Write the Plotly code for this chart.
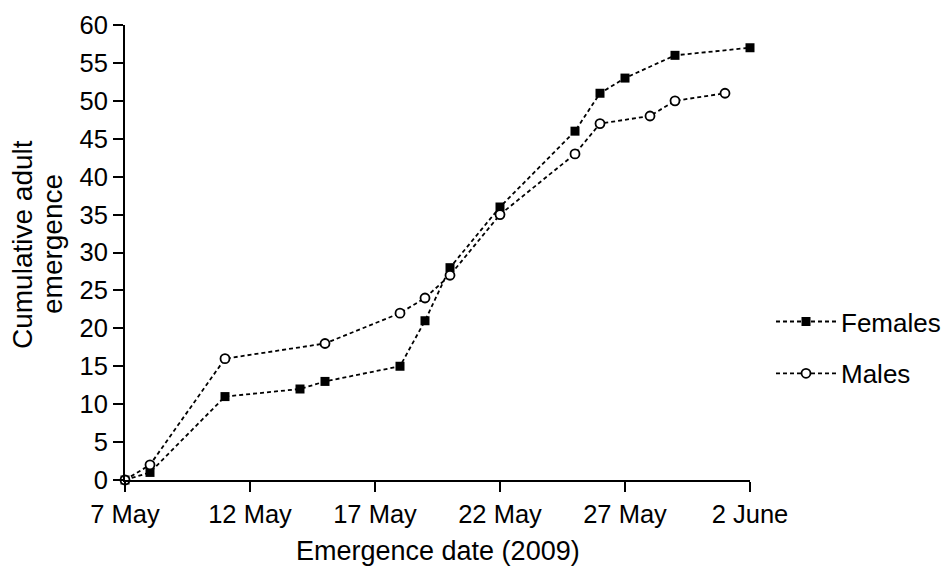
import plotly.graph_objects as go

# Days since 7 May 2009
female_days = [0, 1, 4, 7, 8, 11, 12, 13, 15, 18, 19, 20, 22, 25]
female_counts = [0, 1, 11, 12, 13, 15, 21, 28, 36, 46, 51, 53, 56, 57]
male_days = [0, 1, 4, 8, 11, 12, 13, 15, 18, 19, 21, 22, 24]
male_counts = [0, 2, 16, 18, 22, 24, 27, 35, 43, 47, 48, 50, 51]

x_tickvals = [0, 5, 10, 15, 20, 25]
x_ticktext = ["7 May", "12 May", "17 May", "22 May", "27 May", "2 June"]
y_tickvals = list(range(0, 61, 5))

FONT = "Liberation Sans, Arial, Helvetica, sans-serif"

fig = go.Figure()
fig.add_trace(go.Scatter(
    x=female_days, y=female_counts, name="Females", mode="lines+markers",
    line=dict(color="black", width=1.8, dash="4px,3px"),
    marker=dict(symbol="square", size=9, color="black"),
    cliponaxis=False, legendgroup="f",
))
fig.add_trace(go.Scatter(
    x=male_days, y=male_counts, name="Males", mode="lines+markers",
    line=dict(color="black", width=1.8, dash="4px,3px"),
    marker=dict(symbol="circle", size=9, color="white",
                line=dict(color="black", width=1.8)),
    cliponaxis=False, legendgroup="m",
))

axis_common = dict(
    showline=True, linecolor="black", linewidth=2,
    ticks="outside", ticklen=10, tickwidth=2, tickcolor="black",
    showgrid=False, zeroline=False,
    tickfont=dict(family=FONT, size=25.5, color="black"),
)

fig.update_layout(
    width=947, height=567,
    margin=dict(l=125, r=197, t=25, b=87, autoexpand=False),
    paper_bgcolor="white", plot_bgcolor="white",
    font=dict(family=FONT, color="black"),
    xaxis=dict(range=[0, 25], tickvals=x_tickvals, ticktext=x_ticktext, **axis_common),
    yaxis=dict(range=[0, 60], tickvals=y_tickvals, **axis_common),
    legend=dict(
        x=(771 - 125) / 625, y=0.291, xanchor="left", yanchor="middle",
        font=dict(family=FONT, size=26, color="black"),
        tracegroupgap=15, itemwidth=60, bgcolor="rgba(0,0,0,0)",
    ),
    annotations=[
        dict(text="Cumulative adult", textangle=-90,
             xref="paper", yref="paper", x=(23 - 125) / 625, y=(480 - 244) / 455,
             xanchor="center", yanchor="middle", showarrow=False,
             font=dict(family=FONT, size=28, color="black")),
        dict(text="emergence", textangle=-90,
             xref="paper", yref="paper", x=(53 - 125) / 625, y=(480 - 244) / 455,
             xanchor="center", yanchor="middle", showarrow=False,
             font=dict(family=FONT, size=28, color="black")),
        dict(text="Emergence date (2009)",
             xref="paper", yref="paper", x=0.5, y=(480 - 551) / 455,
             xanchor="center", yanchor="middle", showarrow=False,
             font=dict(family=FONT, size=27, color="black")),
    ],
)

fig.write_html("out.html")
